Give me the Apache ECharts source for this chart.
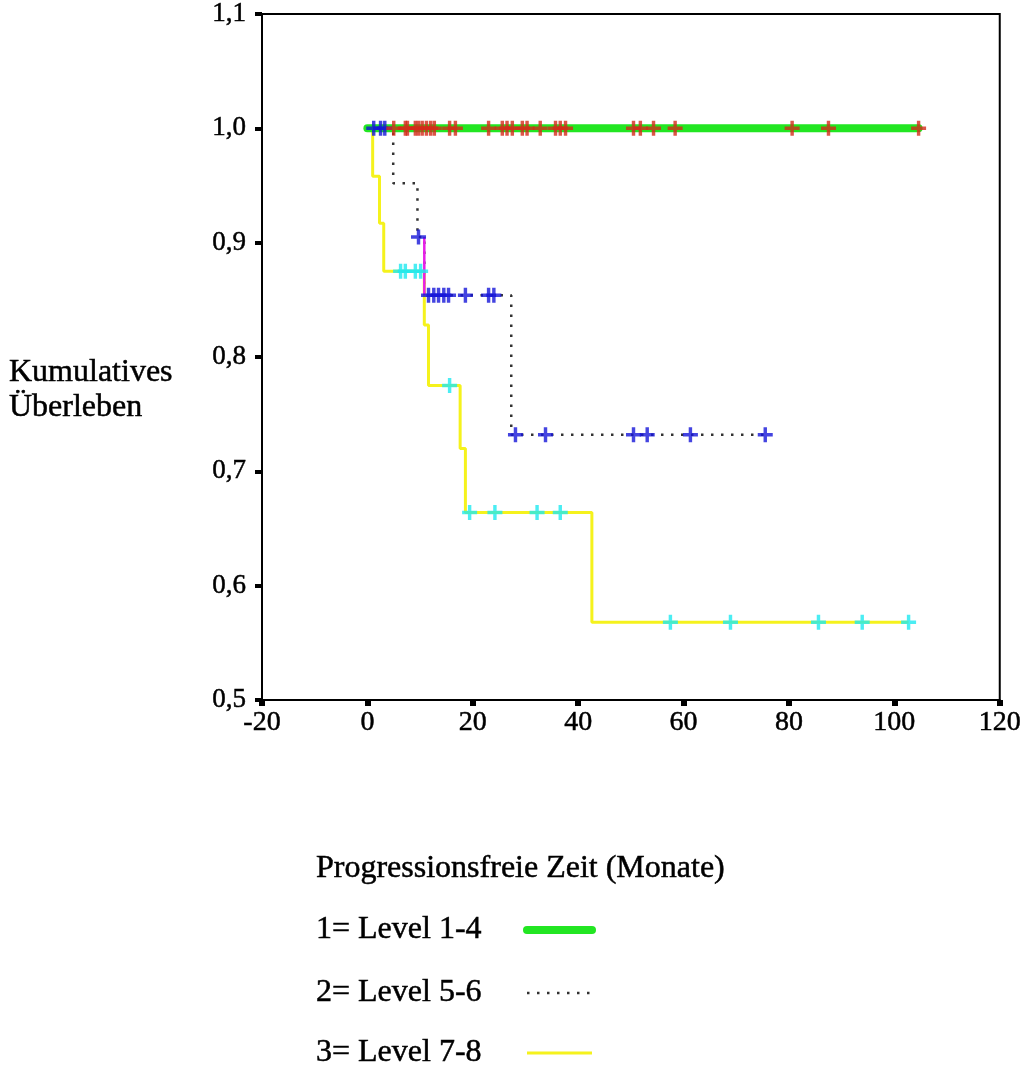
<!DOCTYPE html>
<html><head><meta charset="utf-8">
<script src="https://cdn.jsdelivr.net/npm/echarts@6/dist/echarts.min.js"></script>
<style>html,body{margin:0;padding:0;background:#fff}#c{width:1024px;height:1068px}</style>
</head><body><div id="c"></div>
<script>
// ---- data ----
const xRange = [-20, 120];
const xStep = 20;
const yRange = [0.5, 1.1];
const yStep = 0.1;
const groupNames = ['1= Level 1-4', '2= Level 5-6', '3= Level 7-8'];
const legendTitle = 'Progressionsfreie Zeit (Monate)';
const yAxisTitle = 'Kumulatives\nÜberleben';

// group 1: no events
const g1EventTimes = [];
const g1EventSurv = [];
const g1End = 104.6;
const g1Censored = [5.0, 7.2, 7.6, 9.1, 9.7, 10.4, 11.2, 12.0, 12.7, 15.6, 16.7, 23.0, 25.6, 26.5, 27.5, 29.4, 30.3, 32.8, 35.7, 36.6, 37.6, 50.5, 51.8, 54.3, 58.4, 80.6, 87.5, 104.6];

// group 2
const g2EventTimes = [4.9, 9.5, 10.8, 27.3];
const g2EventSurv = [0.952, 0.905, 0.854, 0.732];
const g2End = 75.5;
const g2Censored = [1.2, 2.5, 3.3, 9.7, 11.6, 12.6, 13.5, 14.5, 15.4, 18.6, 23.0, 24.0, 28.1, 33.8, 50.5, 53.1, 61.3, 75.5];

// group 3
const g3EventTimes = [1.0, 2.3, 3.1, 10.8, 11.6, 17.6, 18.6, 42.6];
const g3EventSurv = [0.958, 0.917, 0.875, 0.828, 0.775, 0.72, 0.664, 0.568];
const g3End = 102.7;
const g3Censored = [6.3, 7.2, 9.1, 10.1, 15.6, 19.4, 24.2, 32.2, 36.6, 57.5, 68.9, 85.6, 93.9, 102.7];

// ---- helpers ----
function stepPoints(times, surv, end) {
  const pts = [[0, 1]];
  for (let i = 0; i < times.length; i++) pts.push([times[i], surv[i]]);
  pts.push([end, surv.length ? surv[surv.length - 1] : 1]);
  return pts;
}
function survAt(times, surv, t) {
  let s = 1;
  for (let i = 0; i < times.length; i++) if (times[i] <= t) s = surv[i];
  return s;
}
function censorPoints(times, surv, cens) {
  return cens.map(t => [t, survAt(times, surv, t)]);
}
const plus = 'path://M5.4,0H8.6V5.4H14V8.6H8.6V14H5.4V8.6H0V5.4H5.4Z';
const serif = 'Liberation Serif';
const txt = {fontFamily: serif, color: '#000', textBorderColor: '#000', textBorderWidth: 0.5};

const styles = [
  {color: '#22e622', width: 8, cap: 'round'},
  {color: '#333333', width: 2.5, type: [2.5, 7.5]},
  {color: '#f5f21c', width: 3}
];

// magenta segment: group 2 drop at 10.8
const mIdx = g2EventTimes.indexOf(10.8);
const magentaPts = [[g2EventTimes[mIdx], g2EventSurv[mIdx - 1]], [g2EventTimes[mIdx], g2EventSurv[mIdx]]];

// legend (graphic)
const legendRowsY = [930, 993, 1053];
const legendGraphic = [];
groupNames.forEach((n, i) => {
  legendGraphic.push({type: 'text', x: 316, y: legendRowsY[i],
    style: {text: n, font: '32px "Liberation Serif"', fill: '#000', stroke: '#000', lineWidth: 0.5, verticalAlign: 'middle'}});
  const st = styles[i];
  legendGraphic.push({type: 'line', shape: {x1: 527, y1: legendRowsY[i], x2: 592, y2: legendRowsY[i]},
    style: {stroke: st.color, lineWidth: st.width, lineCap: st.cap || 'butt', lineDash: st.type || null}});
});

const chart = echarts.init(document.getElementById('c'), null, {renderer: 'canvas'});
chart.setOption({
  animation: false,
  backgroundColor: '#fff',
  title: [
    {text: legendTitle, left: 316, top: 852, padding: 0,
     textStyle: Object.assign({fontSize: 32, fontWeight: 'normal', lineHeight: 34}, txt)},
    {text: yAxisTitle, left: 9, top: 355, padding: 0,
     textStyle: Object.assign({fontSize: 32, fontWeight: 'normal', lineHeight: 35}, txt)}
  ],
  graphic: legendGraphic,
  grid: {left: 262, right: 24, top: 14, bottom: 368, show: true, borderColor: '#000', borderWidth: 2},
  xAxis: {
    type: 'value', min: xRange[0], max: xRange[1], interval: xStep,
    splitLine: {show: false},
    axisLine: {show: true, onZero: false, lineStyle: {color: '#000', width: 2}},
    axisTick: {show: true, length: 6, lineStyle: {color: '#000', width: 6}},
    axisLabel: Object.assign({fontSize: 28, margin: 9}, txt)
  },
  yAxis: {
    type: 'value', min: yRange[0], max: yRange[1], interval: yStep,
    splitLine: {show: false},
    axisLine: {show: true, onZero: false, lineStyle: {color: '#000', width: 2}},
    axisTick: {show: true, length: 7, lineStyle: {color: '#000', width: 4}},
    axisLabel: Object.assign({fontSize: 27, margin: 16,
      formatter: v => v.toFixed(1).replace('.', ',')}, txt)
  },
  series: [
    {name: groupNames[1], type: 'line', step: 'end', symbol: 'none', z: 2,
     data: stepPoints(g2EventTimes, g2EventSurv, g2End),
     lineStyle: styles[1]},
    {name: groupNames[2], type: 'line', step: 'end', symbol: 'none', z: 3,
     data: stepPoints(g3EventTimes, g3EventSurv, g3End),
     lineStyle: styles[2]},
    {name: 'g2drop', type: 'line', symbol: 'none', z: 4,
     data: magentaPts, lineStyle: {color: '#e81ee8', width: 2.5}},
    {name: groupNames[0], type: 'line', step: 'end', symbol: 'none', z: 5,
     data: stepPoints(g1EventTimes, g1EventSurv, g1End),
     lineStyle: styles[0]},
    {name: 'c3', type: 'scatter', symbol: plus, symbolSize: 15, z: 6,
     data: censorPoints(g3EventTimes, g3EventSurv, g3Censored), itemStyle: {color: '#1ee8f0'}},
    {name: 'c2', type: 'scatter', symbol: plus, symbolSize: 15, z: 7,
     data: censorPoints(g2EventTimes, g2EventSurv, g2Censored), itemStyle: {color: '#1515d8'}},
    {name: 'c1', type: 'scatter', symbol: plus, symbolSize: 15, z: 8,
     data: censorPoints(g1EventTimes, g1EventSurv, g1Censored), itemStyle: {color: '#d42a1a'}}
  ]
});
</script></body></html>
